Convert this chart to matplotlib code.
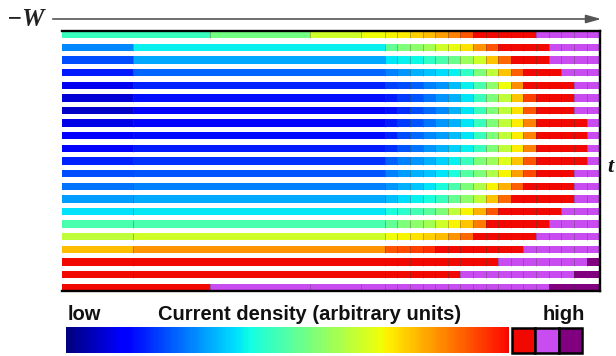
import numpy as np
import matplotlib
matplotlib.use("Agg")
import matplotlib.pyplot as plt
from matplotlib import cm
from matplotlib.colors import LinearSegmentedColormap, Normalize

# levels: numbers are positions on the jet scale, P / D are the two "above red" levels
R = 0.9
P = "P"
D = "D"
VIOLET = "#c84cf0"
DARK = "#800080"

# mesh columns, in widths of one small cell
edge_cols = [0, 11.7, 19.7, 23.7, 25.6]   # first and last row
inner_cols = [0, 5.6, 25.6]              # all other rows
n_small = 17

# first row (top)
top_wide = [0.42, 0.49, 0.6, 0.64]
top_small = [0.65, 0.66, 0.69, 0.71, 0.74, 0.77, 0.82, R, R, R, R, R, P, P, P, P, P]

# last row (bottom)
bottom_wide = [R, P, P, P]
bottom_small = [P, P, P, P, P, P, P, P, P, P, P, P, P, D, D, D, D]

# rows 1..19: two wide cells and then the small cells
col_a = [0.26, 0.2, 0.15, 0.1, 0.075, 0.065, 0.09, 0.12, 0.12,
         0.16, 0.2, 0.24, 0.28, 0.345, 0.44, 0.58, 0.71, R, R]
col_b = [0.36, 0.29, 0.225, 0.16, 0.14, 0.12, 0.13, 0.135, 0.15,
         0.175, 0.21, 0.25, 0.29, 0.355, 0.44, 0.6, 0.75, R, R]
small_rows = [
    [0.47, 0.5, 0.52, 0.55, 0.6, 0.63, 0.67, 0.75, 0.82, R, R, R, R, P, P, P, P],
    [0.35, 0.36, 0.37, 0.41, 0.44, 0.48, 0.54, 0.6, 0.7, 0.8, R, R, R, P, P, P, P],
    [0.25, 0.27, 0.3, 0.32, 0.34, 0.36, 0.41, 0.5, 0.58, 0.7, 0.81, R, R, R, P, P, P],
    [0.19, 0.2, 0.22, 0.25, 0.27, 0.31, 0.36, 0.44, 0.52, 0.64, 0.76, R, R, R, R, P, P],
    [0.15, 0.18, 0.21, 0.24, 0.27, 0.3, 0.35, 0.42, 0.5, 0.58, 0.7, 0.84, R, R, R, P, P],
    [0.14, 0.17, 0.2, 0.23, 0.26, 0.3, 0.35, 0.42, 0.5, 0.58, 0.67, 0.82, R, R, R, P, P],
    [0.15, 0.18, 0.21, 0.24, 0.27, 0.3, 0.35, 0.42, 0.5, 0.58, 0.66, 0.77, R, R, R, R, P],
    [0.16, 0.2, 0.23, 0.26, 0.28, 0.31, 0.35, 0.42, 0.5, 0.58, 0.66, 0.77, R, R, R, R, P],
    [0.17, 0.21, 0.24, 0.27, 0.3, 0.33, 0.36, 0.42, 0.5, 0.58, 0.66, 0.77, R, R, R, R, P],
    [0.22, 0.25, 0.27, 0.3, 0.33, 0.36, 0.42, 0.5, 0.54, 0.62, 0.7, 0.82, R, R, R, R, P],
    [0.25, 0.28, 0.3, 0.32, 0.35, 0.38, 0.45, 0.5, 0.56, 0.65, 0.74, 0.83, R, R, R, P, P],
    [0.27, 0.3, 0.32, 0.35, 0.38, 0.44, 0.5, 0.56, 0.65, 0.72, 0.81, R, R, R, R, P, P],
    [0.31, 0.34, 0.36, 0.38, 0.42, 0.47, 0.52, 0.58, 0.7, 0.8, R, R, R, R, R, P, P],
    [0.38, 0.4, 0.43, 0.46, 0.5, 0.58, 0.65, 0.72, 0.82, R, R, R, R, R, P, P, P],
    [0.47, 0.5, 0.52, 0.55, 0.6, 0.65, 0.7, 0.78, R, R, R, R, R, P, P, P, P],
    [0.64, 0.65, 0.67, 0.69, 0.71, 0.75, 0.8, R, R, R, R, R, P, P, P, P, P],
    [0.82, 0.83, 0.84, 0.86, R, R, R, R, R, R, R, P, P, P, P, P, P],
    [R, R, R, R, R, R, R, R, R, P, P, P, P, P, P, P, D],
    [R, R, R, R, R, R, P, P, P, P, P, P, P, P, P, D, D],
]

legend_boxes = [R, P, D]

BAR_H = 0.58
W, H = 616, 356


def px_box(x0, y0, x1, y1):
    return [x0 / W, 1 - y1 / H, (x1 - x0) / W, (y1 - y0) / H]


def cell_color(v):
    if v == P:
        return VIOLET
    if v == D:
        return DARK
    return plt.cm.jet(v)


small_edges = edge_cols[-1] + np.arange(n_small + 1)


def draw_row(ax, y, wide_edges, values):
    edges = np.concatenate([wide_edges, small_edges[1:]])
    ax.barh(y, np.diff(edges), left=edges[:-1], height=BAR_H,
            color=[cell_color(v) for v in values], linewidth=0)
    ax.vlines(edges[1:-1], y - BAR_H / 2, y + BAR_H / 2,
              color="#404040", alpha=0.4, lw=0.6)


fig = plt.figure(figsize=(6.16, 3.56), dpi=100)

# overlay in pixel units for the labels
ov = fig.add_axes([0, 0, 1, 1])
ov.set_xlim(0, W)
ov.set_ylim(H, 0)
ov.axis("off")

# the mesh
ax = fig.add_axes(px_box(62, 31, 600, 291))
n_rows = len(small_rows) + 2
draw_row(ax, 0, edge_cols, top_wide + top_small)
for i, (a, b, s) in enumerate(zip(col_a, col_b, small_rows)):
    draw_row(ax, i + 1, inner_cols, [a, b] + s)
draw_row(ax, n_rows - 1, edge_cols, bottom_wide + bottom_small)
ax.set_xlim(0, small_edges[-1] + 0.07)
ax.set_ylim(n_rows - 1 + 0.3, -0.3)
ax.set_xticks([])
ax.set_yticks([])
ax.spines["left"].set_visible(False)
for s in ["top", "right", "bottom"]:
    ax.spines[s].set_linewidth(1.7)
    ax.spines[s].set_color("black")

# width axis arrow and labels
ov.annotate("", xy=(604, 19), xytext=(50, 19),
            arrowprops=dict(arrowstyle="-|>,head_length=0.9,head_width=0.25",
                            color="#555555", lw=1.2))
ov.text(7, 19, "\u2212W", va="center", ha="left", fontsize=18,
        family="Liberation Serif", weight="bold", style="italic", color="#222222")
ov.text(607, 167, "t", va="center", ha="left", fontsize=16,
        family="Liberation Serif", weight="bold", style="italic", color="#111111")

# colour scale
bar_cmap = LinearSegmentedColormap.from_list("jet_red", plt.cm.jet(np.linspace(0, R, 256)))
cax = fig.add_axes(px_box(66, 327, 509, 353))
cb = fig.colorbar(cm.ScalarMappable(norm=Normalize(0, 1), cmap=bar_cmap),
                  cax=cax, orientation="horizontal")
cb.set_ticks([])
cb.outline.set_visible(False)

bx = fig.add_axes(px_box(512, 328, 582, 353))
bx.bar(range(len(legend_boxes)), [1] * len(legend_boxes), width=1,
       color=[cell_color(v) for v in legend_boxes], edgecolor="black",
       linewidth=1.8, clip_on=False)
bx.set_xlim(-0.5, len(legend_boxes) - 0.5)
bx.set_ylim(0, 1)
bx.axis("off")

lab = dict(fontsize=14.5, family="Liberation Sans", weight="bold", va="baseline", color="#111111")
ov.text(68, 320, "low", ha="left", **lab)
ov.text(310, 320, "Current density (arbitrary units)", ha="center", **lab)
ov.text(585, 320, "high", ha="right", **lab)

fig.savefig("out.png", dpi=100)
